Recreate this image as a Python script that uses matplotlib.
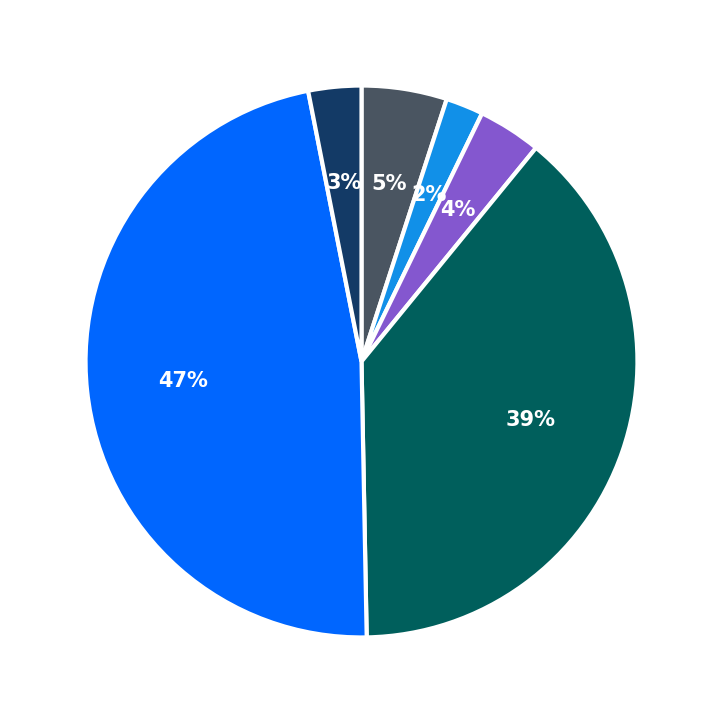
import matplotlib
matplotlib.use("Agg")
import matplotlib.pyplot as plt

labels = ["A", "B", "C", "D", "E", "F"]
values = [5.0, 2.2, 3.7, 38.8, 47.2, 3.1]
colors = ["#4a5561", "#1190e8", "#8457cf", "#005f5c", "#0066ff", "#133a66"]

fig = plt.figure(figsize=(7.23, 7.23), dpi=100)
ax = fig.add_axes([0, 0, 1, 1])
wedges, texts, autotexts = ax.pie(
    values, colors=colors, startangle=90, counterclock=False,
    autopct="%1.0f%%", pctdistance=0.65, radius=1,
    wedgeprops=dict(edgecolor="white", linewidth=3),
    textprops=dict(color="white", fontsize=15, fontweight="bold"))
ax.set_xlim(-1.31, 1.31)
ax.set_ylim(-1.31, 1.31)
ax.set_aspect("equal")
fig.savefig("out.png", dpi=100)
